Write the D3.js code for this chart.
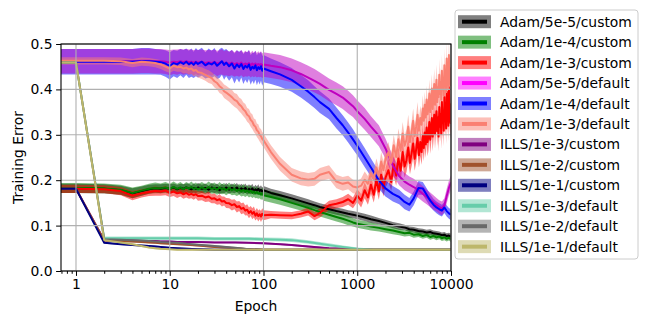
<!DOCTYPE html>
<meta charset="utf-8">
<head>
<style>
    body { margin: 0; background: #fff; }
    text { font-family: "DejaVu Sans", sans-serif; font-size: 13.9px; fill: #000; }
    .grid line { stroke: #b0b0b0; stroke-width: 1.1px; }
    .axis path { display: none; }
    .axis line { stroke: #000; stroke-width: 1px; }
</style>
</head>
<body>
<svg width="648" height="324"></svg>
<script src="https://d3js.org/d3.v7.min.js"></script>
<script>

// ---- data ----
var epochsA = [0,1,2,3,4,5,6,7,8,9,10,11,12,13,14,15,16,17,18,19,20,
    22,24,26,28,30,32,34,36,38,40,
    43,46,49,52,55,58,61,64,67,70,73,76,79,82,85,88,91,94,97,100,
    120,150,200,250,300,350,400,500,600,700,800,900,1000,
    1200,1400,1700,2000,2400,2800,3200,3600,4000,4500,5000,5500,6000,6500,7000,7500,8000,8500,9000,9500,10000];
// Adam/1e-3 runs are sampled densely after 1000 epochs
var epochsR = epochsA.slice(0, 64).concat(d3.range(1100, 2001, 100), d3.range(2150, 5001, 150), d3.range(5125, 10001, 125));
var epochsI = [0,1,2,3,4,5,6,7,8,10,12,15,20,30,50,70,100,150,200,300,400,500,700,1000,1500,2000,3000,5000,10000];

var adam5eCustom = [0.182,0.182,0.181,0.178,0.171,0.176,0.180,0.182,0.181,0.183,0.181,0.184,0.180,0.183,0.181,0.184,0.182,0.180,0.183,0.181,0.184,
    0.181,0.183,0.179,0.184,0.181,0.183,0.178,0.182,0.180,0.184,
    0.179,0.183,0.180,0.184,0.178,0.182,0.179,0.183,0.177,0.181,0.178,0.182,0.176,0.180,0.177,0.181,0.176,0.179,0.175,0.178,
    0.172,0.167,0.160,0.154,0.149,0.145,0.141,0.136,0.132,0.129,0.126,0.124,0.122,
    0.118,0.114,0.110,0.106,0.101,0.098,0.096,0.092,0.091,0.088,0.087,0.085,0.086,0.083,0.082,0.081,0.079,0.080,0.077,0.078,0.076];
var adam5eCustomStd = [0.010,0.010,0.010,0.010,0.011,0.010,0.010,0.009,0.010,0.009,0.010,0.009,0.010,0.009,0.010,0.009,0.010,0.009,0.010,0.009,0.010,
    0.009,0.010,0.009,0.010,0.009,0.010,0.009,0.010,0.009,0.010,
    0.009,0.010,0.009,0.010,0.009,0.010,0.009,0.010,0.009,0.010,0.009,0.010,0.009,0.010,0.009,0.010,0.009,0.010,0.009,0.009,
    0.009,0.009,0.009,0.009,0.009,0.008,0.008,0.008,0.008,0.008,0.008,0.008,0.008,
    0.008,0.008,0.007,0.007,0.007,0.007,0.006,0.006,0.006,0.006,0.006,0.006,0.006,0.006,0.006,0.006,0.006,0.006,0.006,0.006,0.006];

var adam1e4Custom = [0.183,0.183,0.182,0.179,0.172,0.177,0.181,0.183,0.182,0.184,0.181,0.185,0.181,0.184,0.180,0.184,0.182,0.185,0.181,0.183,0.180,
    0.184,0.180,0.185,0.181,0.183,0.179,0.184,0.180,0.182,0.178,
    0.183,0.178,0.181,0.176,0.180,0.175,0.179,0.174,0.178,0.173,0.177,0.172,0.175,0.171,0.174,0.170,0.172,0.168,0.171,0.167,
    0.163,0.158,0.150,0.144,0.139,0.134,0.130,0.124,0.119,0.115,0.111,0.107,0.104,
    0.101,0.098,0.095,0.092,0.089,0.086,0.083,0.084,0.080,0.081,0.077,0.079,0.075,0.077,0.074,0.076,0.072,0.074,0.071,0.073,0.070];
var adam1e4CustomStd = [0.011,0.011,0.011,0.011,0.012,0.011,0.011,0.012,0.011,0.012,0.011,0.012,0.011,0.012,0.011,0.012,0.011,0.012,0.011,0.012,0.011,
    0.012,0.011,0.012,0.011,0.012,0.011,0.012,0.011,0.012,0.011,
    0.012,0.011,0.013,0.011,0.012,0.011,0.013,0.011,0.012,0.011,0.013,0.011,0.012,0.011,0.013,0.011,0.012,0.011,0.013,0.012,
    0.012,0.012,0.011,0.011,0.011,0.011,0.010,0.010,0.010,0.010,0.010,0.009,0.009,
    0.009,0.009,0.008,0.008,0.008,0.007,0.007,0.007,0.007,0.006,0.006,0.006,0.006,0.006,0.006,0.006,0.006,0.006,0.006,0.006,0.006];

var adam1e3Custom = [0.181,0.181,0.180,0.176,0.166,0.171,0.174,0.176,0.175,0.177,0.172,0.175,0.171,0.173,0.169,0.172,0.168,0.170,0.167,0.169,0.165,
    0.166,0.162,0.164,0.159,0.160,0.156,0.158,0.153,0.154,0.150,
    0.149,0.145,0.147,0.141,0.143,0.137,0.139,0.133,0.135,0.128,0.132,0.126,0.130,0.122,0.127,0.121,0.125,0.120,0.126,0.123,
    0.124,0.123,0.122,0.126,0.131,0.121,0.128,0.145,0.148,0.152,0.158,0.150,0.166,
    0.155,0.178,0.162,0.190,0.168,0.201,0.175,0.212,0.183,0.205,
    0.222,0.196,0.235,0.210,0.248,0.221,0.262,0.230,0.244,0.272,0.238,0.259,0.281,0.247,0.268,0.293,0.255,0.284,0.262,0.298,
    0.271,0.305,0.279,0.316,0.284,0.298,0.328,0.289,0.312,0.337,0.296,0.321,0.344,0.302,0.330,0.352,0.308,0.338,0.296,0.361,
    0.318,0.345,0.302,0.372,0.326,0.351,0.309,0.383,0.332,0.357,0.314,0.395,0.338,0.362,0.320,0.405,0.341,0.368,0.326,0.352];
var adam1e3CustomStd = [0.009,0.009,0.009,0.009,0.010,0.009,0.009,0.010,0.009,0.010,0.009,0.010,0.010,0.009,0.010,0.010,0.009,0.010,0.010,0.009,0.010,
    0.010,0.010,0.011,0.010,0.011,0.010,0.011,0.011,0.010,0.011,
    0.011,0.012,0.011,0.012,0.011,0.012,0.012,0.011,0.012,0.012,0.011,0.012,0.012,0.011,0.012,0.012,0.011,0.012,0.012,0.011,
    0.008,0.008,0.008,0.008,0.009,0.009,0.010,0.010,0.010,0.011,0.012,0.012,0.014,
    0.015,0.018,0.016,0.020,0.017,0.022,0.018,0.024,0.019,0.022,
    0.025,0.020,0.027,0.022,0.028,0.023,0.030,0.024,0.026,0.031,0.025,0.028,0.032,0.026,0.029,0.033,0.027,0.031,0.028,0.034,
    0.029,0.035,0.030,0.036,0.031,0.033,0.037,0.031,0.034,0.038,0.032,0.035,0.039,0.033,0.036,0.040,0.033,0.037,0.032,0.041,
    0.035,0.038,0.033,0.042,0.036,0.039,0.034,0.043,0.036,0.040,0.035,0.044,0.037,0.040,0.035,0.045,0.037,0.041,0.036,0.040];

var adam5eDefault = [0.462,0.462,0.462,0.462,0.462,0.463,0.463,0.462,0.462,0.461,0.459,0.461,0.460,0.462,0.460,0.462,0.460,0.461,0.459,0.461,0.459,
    0.461,0.458,0.460,0.458,0.461,0.457,0.459,0.461,0.457,0.459,
    0.456,0.459,0.455,0.458,0.455,0.459,0.454,0.457,0.455,0.458,0.453,0.457,0.454,0.457,0.453,0.456,0.454,0.456,0.452,0.455,
    0.452,0.449,0.442,0.434,0.426,0.419,0.412,0.399,0.390,0.382,0.372,0.363,0.352,
    0.335,0.318,0.298,0.270,0.232,0.209,0.197,0.190,0.185,0.178,0.170,0.163,0.157,0.151,0.146,0.141,0.138,0.145,0.165,0.183,0.195];
var adam5eDefaultStd = [0.027,0.027,0.027,0.027,0.027,0.027,0.027,0.027,0.027,0.027,0.028,0.027,0.028,0.027,0.028,0.027,0.028,0.027,0.028,0.027,0.028,
    0.027,0.028,0.027,0.028,0.027,0.028,0.027,0.028,0.027,0.028,
    0.027,0.028,0.027,0.028,0.027,0.028,0.027,0.028,0.027,0.028,0.027,0.028,0.027,0.028,0.027,0.028,0.027,0.028,0.027,0.027,
    0.027,0.027,0.026,0.026,0.026,0.026,0.025,0.025,0.025,0.025,0.025,0.024,0.024,
    0.024,0.023,0.023,0.022,0.021,0.020,0.019,0.018,0.018,0.017,0.017,0.016,0.016,0.016,0.015,0.015,0.015,0.015,0.016,0.016,0.016];

var adam1e4Default = [0.461,0.461,0.461,0.461,0.461,0.462,0.462,0.461,0.460,0.457,0.452,0.458,0.455,0.460,0.456,0.461,0.455,0.459,0.454,0.460,0.456,
    0.461,0.453,0.458,0.455,0.460,0.452,0.457,0.462,0.454,0.459,
    0.451,0.457,0.446,0.455,0.449,0.456,0.445,0.452,0.448,0.455,0.443,0.450,0.446,0.453,0.442,0.449,0.445,0.451,0.441,0.446,
    0.440,0.433,0.421,0.407,0.395,0.383,0.372,0.357,0.337,0.321,0.305,0.290,0.276,
    0.250,0.228,0.200,0.182,0.170,0.163,0.152,0.146,0.160,0.183,0.182,0.168,0.155,0.146,0.140,0.136,0.133,0.140,0.132,0.127,0.124];
var adam1e4DefaultStd = [0.028,0.028,0.028,0.028,0.028,0.029,0.029,0.028,0.028,0.029,0.030,0.029,0.030,0.029,0.031,0.029,0.030,0.031,0.029,0.031,0.030,
    0.031,0.029,0.032,0.030,0.031,0.029,0.032,0.030,0.033,0.030,
    0.032,0.030,0.033,0.031,0.034,0.030,0.033,0.031,0.034,0.032,0.033,0.031,0.034,0.032,0.033,0.031,0.034,0.032,0.033,0.030,
    0.028,0.027,0.026,0.025,0.025,0.024,0.024,0.023,0.023,0.022,0.022,0.022,0.021,
    0.021,0.020,0.019,0.018,0.017,0.016,0.016,0.015,0.015,0.015,0.014,0.014,0.014,0.013,0.013,0.013,0.013,0.012,0.012,0.012,0.012];

var adam1e3Default = [0.463,0.463,0.463,0.462,0.458,0.461,0.460,0.458,0.455,0.450,0.446,0.452,0.449,0.450,0.446,0.448,0.444,0.446,0.441,0.443,0.438,
    0.436,0.432,0.428,0.425,0.418,0.414,0.407,0.403,0.396,0.393,
    0.388,0.383,0.377,0.374,0.367,0.363,0.356,0.352,0.344,0.341,0.333,0.329,0.321,0.318,0.310,0.307,0.300,0.297,0.291,0.288,
    0.262,0.236,0.212,0.204,0.201,0.203,0.212,0.218,0.197,0.192,0.195,0.186,0.184,
    0.188,0.201,0.192,0.215,0.203,0.228,0.210,0.241,0.222,0.246,
    0.262,0.238,0.277,0.251,0.290,0.265,0.303,0.276,0.289,0.318,0.284,0.306,0.331,0.297,0.318,0.344,0.309,0.337,0.322,0.358,
    0.331,0.366,0.338,0.378,0.345,0.360,0.391,0.350,0.375,0.402,0.357,0.385,0.412,0.366,0.393,0.421,0.372,0.404,0.383,0.432,
    0.390,0.416,0.377,0.441,0.400,0.425,0.386,0.453,0.408,0.433,0.394,0.468,0.414,0.440,0.401,0.476,0.421,0.447,0.409,0.438];
var adam1e3DefaultStd = [0.008,0.008,0.008,0.008,0.009,0.009,0.009,0.009,0.010,0.010,0.010,0.011,0.010,0.011,0.011,0.012,0.011,0.012,0.012,0.013,0.012,
    0.013,0.013,0.014,0.013,0.014,0.014,0.015,0.014,0.015,0.015,
    0.015,0.016,0.015,0.016,0.015,0.016,0.015,0.016,0.015,0.016,0.015,0.016,0.015,0.016,0.015,0.016,0.015,0.016,0.015,0.015,
    0.015,0.015,0.015,0.015,0.015,0.015,0.015,0.015,0.015,0.015,0.015,0.015,0.015,
    0.016,0.018,0.017,0.019,0.018,0.020,0.018,0.021,0.019,0.021,
    0.022,0.019,0.023,0.020,0.024,0.021,0.025,0.022,0.023,0.026,0.022,0.024,0.027,0.023,0.025,0.028,0.024,0.027,0.025,0.029,
    0.026,0.029,0.026,0.030,0.027,0.028,0.031,0.027,0.029,0.032,0.027,0.030,0.033,0.028,0.030,0.034,0.028,0.031,0.029,0.035,
    0.029,0.032,0.028,0.036,0.030,0.033,0.029,0.037,0.030,0.034,0.029,0.038,0.031,0.034,0.030,0.039,0.031,0.035,0.030,0.034];

var ills1e3Custom = [0.181,0.181,0.068,0.067,0.067,0.066,0.066,0.066,0.065,0.065,0.064,0.064,0.064,0.063,0.063,0.062,0.061,
    0.059,0.057,0.054,0.052,0.050,0.049,0.048,0.047,0.047,0.047,0.047,0.047];
var ills1e2Custom = [0.181,0.181,0.067,0.066,0.065,0.064,0.063,0.062,0.061,0.060,0.059,0.058,0.056,0.053,0.050,0.048,0.047,
    0.047,0.047,0.047,0.047,0.047,0.047,0.047,0.047,0.047,0.047,0.047,0.047];
var ills1e1Custom = [0.181,0.181,0.062,0.059,0.057,0.056,0.055,0.054,0.053,0.051,0.050,0.049,0.048,0.047,0.047,0.047,0.046,
    0.046,0.046,0.046,0.046,0.046,0.046,0.046,0.046,0.046,0.046,0.046,0.046];
var ills1e3Default = [0.459,0.459,0.072,0.072,0.072,0.072,0.072,0.072,0.072,0.072,0.072,0.072,0.072,0.071,0.071,0.071,0.070,
    0.069,0.068,0.064,0.060,0.057,0.053,0.049,0.047,0.047,0.047,0.047,0.047];
var ills1e2Default = [0.459,0.459,0.070,0.069,0.068,0.067,0.066,0.065,0.064,0.063,0.062,0.060,0.058,0.055,0.051,0.048,0.047,
    0.047,0.047,0.047,0.047,0.047,0.047,0.047,0.047,0.047,0.047,0.047,0.047];
var ills1e1Default = [0.459,0.459,0.068,0.063,0.059,0.055,0.052,0.050,0.049,0.048,0.047,0.047,0.047,0.047,0.047,0.047,0.047,
    0.047,0.047,0.047,0.047,0.047,0.047,0.047,0.047,0.047,0.047,0.047,0.047];
var illsStd = [0.002,0.002,0.002,0.002,0.002,0.002,0.002,0.002,0.002,0.002,0.002,0.002,0.002,0.002,0.002,0.002,0.002,
    0.002,0.002,0.002,0.002,0.002,0.002,0.002,0.002,0.002,0.002,0.002,0.002];
var ills1e3DefaultStd = [0.002,0.002,0.004,0.004,0.004,0.004,0.004,0.004,0.004,0.004,0.004,0.004,0.004,0.004,0.004,0.004,0.004,
    0.004,0.004,0.004,0.004,0.004,0.003,0.003,0.002,0.002,0.002,0.002,0.002];

var labels = ["Adam/5e-5/custom", "Adam/1e-4/custom", "Adam/1e-3/custom", "Adam/5e-5/default", "Adam/1e-4/default", "Adam/1e-3/default",
    "ILLS/1e-3/custom", "ILLS/1e-2/custom", "ILLS/1e-1/custom", "ILLS/1e-3/default", "ILLS/1e-2/default", "ILLS/1e-1/default"];
var colors = ["#000000", "#008000", "#ff0000", "#bf00bf", "#0000ff", "#fa8072",
    "#800080", "#a0522d", "#000080", "#66cdaa", "#696969", "#bdb76b"];
var legendColors = colors.slice();
legendColors[3] = "#ff00ff";
// order in which the shaded bands are painted (magenta band lies over the blue one)
var bandOrder = [0, 1, 2, 4, 3, 5, 6, 7, 8, 9, 10, 11];

var yTicks = [0, 0.1, 0.2, 0.3, 0.4, 0.5];
var xTicks = [1, 10, 100, 1000, 10000];

var series = [
    { x: epochsA, y: adam5eCustom, s: adam5eCustomStd },
    { x: epochsA, y: adam1e4Custom, s: adam1e4CustomStd },
    { x: epochsR, y: adam1e3Custom, s: adam1e3CustomStd },
    { x: epochsA, y: adam5eDefault, s: adam5eDefaultStd },
    { x: epochsA, y: adam1e4Default, s: adam1e4DefaultStd },
    { x: epochsR, y: adam1e3Default, s: adam1e3DefaultStd },
    { x: epochsI, y: ills1e3Custom, s: illsStd },
    { x: epochsI, y: ills1e2Custom, s: illsStd },
    { x: epochsI, y: ills1e1Custom, s: illsStd },
    { x: epochsI, y: ills1e3Default, s: ills1e3DefaultStd },
    { x: epochsI, y: ills1e2Default, s: illsStd },
    { x: epochsI, y: ills1e1Default, s: illsStd }
].map(function (d, i) {
    d.label = labels[i];
    d.color = colors[i];
    d.points = d.x.map(function (e, j) { return { e: e, m: d.y[j], sd: d.s[j] }; });
    return d;
});

// ---- chart ----
var svg = d3.select("svg"),
    plotLeft = 61, plotRight = 451, plotTop = 44, plotBottom = 271;

var x = d3.scaleLog().domain([0.692, 10000]).range([plotLeft, plotRight]);
var y = d3.scaleLinear().domain([0, 0.5]).range([plotBottom, plotTop]);

// epoch 0 lies off the log axis: pin it to the left edge
function xPos(e) { return x(Math.max(e, x.domain()[0])); }

svg.append("defs").append("clipPath").attr("id", "plot")
    .append("rect").attr("x", plotLeft).attr("y", plotTop)
    .attr("width", plotRight - plotLeft).attr("height", plotBottom - plotTop);

var band = d3.area()
    .x(function (d) { return xPos(d.e); })
    .y0(function (d) { return y(d.m - d.sd); })
    .y1(function (d) { return y(d.m + d.sd); });

var line = d3.line()
    .x(function (d) { return xPos(d.e); })
    .y(function (d) { return y(d.m); });

var plot = svg.append("g").attr("clip-path", "url(#plot)");

plot.append("g")
    .selectAll("path")
    .data(bandOrder.map(function (i) { return series[i]; }))
    .enter().append("path")
    .attr("d", function (d) { return band(d.points); })
    .attr("fill", function (d) { return d.color; })
    .attr("fill-opacity", 0.5);

// grid sits above the bands but under the lines
var grid = svg.append("g").attr("class", "grid");
grid.selectAll("line.gx")
    .data(xTicks)
    .enter().append("line")
    .attr("x1", function (d) { return x(d); })
    .attr("x2", function (d) { return x(d); })
    .attr("y1", plotTop).attr("y2", plotBottom);
grid.selectAll("line.gy")
    .data(yTicks)
    .enter().append("line")
    .attr("x1", plotLeft).attr("x2", plotRight)
    .attr("y1", function (d) { return y(d); })
    .attr("y2", function (d) { return y(d); });

plot.append("g")
    .selectAll("path")
    .data(series)
    .enter().append("path")
    .attr("d", function (d) { return line(d.points); })
    .attr("fill", "none")
    .attr("stroke", function (d) { return d.color; })
    .attr("stroke-width", 2)
    .attr("stroke-linejoin", "round");

// axes
var minorTicks = [];
[0.1, 1, 10, 100, 1000].forEach(function (p) {
    for (var k = 2; k < 10; k++) {
        var v = k * p;
        if (v >= x.domain()[0] && v <= 10000) minorTicks.push(v);
    }
});

svg.append("g")
    .attr("class", "axis")
    .attr("transform", "translate(0," + plotBottom + ")")
    .call(d3.axisBottom(x).tickValues(minorTicks).tickFormat("").tickSize(2.8).tickSizeOuter(0));

svg.append("g")
    .attr("class", "axis")
    .attr("transform", "translate(0," + plotBottom + ")")
    .call(d3.axisBottom(x).tickValues(xTicks).tickFormat(d3.format("d")).tickSize(4.9).tickPadding(3.5).tickSizeOuter(0));

svg.append("g")
    .attr("class", "axis")
    .attr("transform", "translate(" + plotLeft + ",0)")
    .call(d3.axisLeft(y).tickValues(yTicks).tickFormat(d3.format(".1f")).tickSize(4.9).tickPadding(3.5).tickSizeOuter(0));

svg.selectAll(".axis").attr("font-size", null).attr("font-family", null);

svg.append("rect")
    .attr("x", plotLeft).attr("y", plotTop)
    .attr("width", plotRight - plotLeft).attr("height", plotBottom - plotTop)
    .attr("fill", "none").attr("stroke", "#000").attr("stroke-width", 1.1);

svg.append("text")
    .attr("x", (plotLeft + plotRight) / 2).attr("y", 306)
    .attr("text-anchor", "middle").attr("dominant-baseline", "central")
    .text("Epoch");

svg.append("text")
    .attr("transform", "translate(18," + (plotTop + plotBottom) / 2 + ") rotate(-90)")
    .attr("text-anchor", "middle").attr("dominant-baseline", "central")
    .text("Training Error");

// legend
var legend = svg.append("g").attr("transform", "translate(455,10)");
legend.append("rect")
    .attr("width", 183).attr("height", 249).attr("rx", 3)
    .attr("fill", "#fff").attr("fill-opacity", 0.8)
    .attr("stroke", "#cccccc").attr("stroke-width", 1);

var item = legend.selectAll("g.item")
    .data(series)
    .enter().append("g")
    .attr("class", "item")
    .attr("transform", function (d, i) { return "translate(0," + (11.7 + i * 20.45) + ")"; });

item.append("rect")
    .attr("x", 3).attr("y", -6.5).attr("width", 33).attr("height", 13)
    .attr("fill", function (d, i) { return legendColors[i]; })
    .attr("fill-opacity", 0.5);
item.append("line")
    .attr("x1", 7).attr("x2", 32).attr("y1", 0).attr("y2", 0)
    .attr("stroke", function (d, i) { return legendColors[i]; })
    .attr("stroke-width", 4);
item.append("text")
    .attr("x", 45).attr("y", 0)
    .attr("dominant-baseline", "central")
    .text(function (d) { return d.label; });

</script>
</body>
